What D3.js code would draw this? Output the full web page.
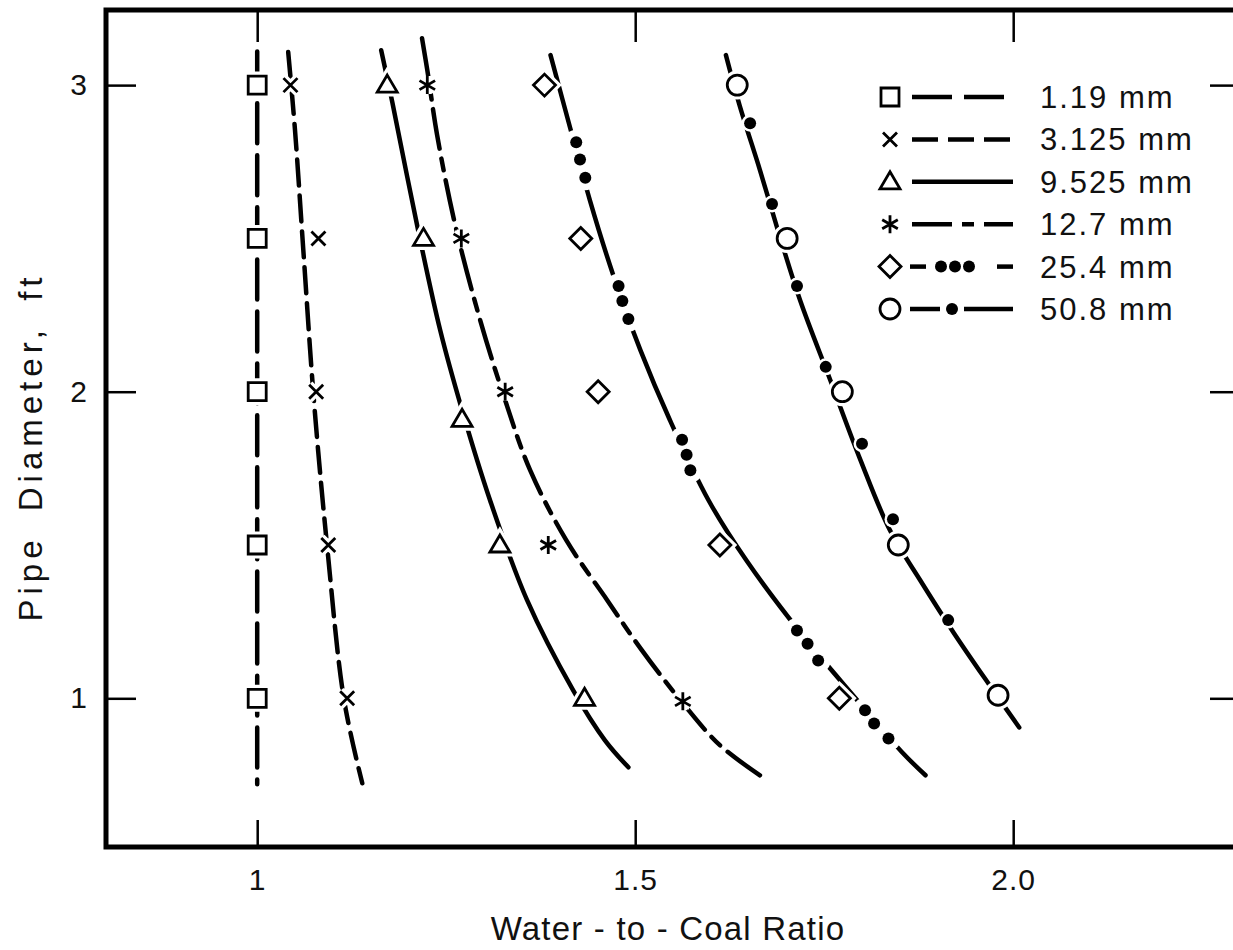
<!DOCTYPE html>
<html>
<head>
<meta charset="utf-8">
<script src="https://cdn.jsdelivr.net/npm/d3@7"></script>
<style>
  body { margin: 0; background: #fff; }
  svg { display: block; }
  text { font-family: "Liberation Sans", Arial, sans-serif; fill: #111; }
</style>
</head>
<body>
<svg width="1233" height="950"></svg>
<script>
const sizes = ["1.19 mm", "3.125 mm", "9.525 mm", "12.7 mm", "25.4 mm", "50.8 mm"];
const xTicks = [1, 1.5, 2];
const xTickLabels = ["1", "1.5", "2.0"];
const yTicks = [1, 2, 3];
const yTickLabels = ["1", "2", "3"];

// measured points [water-to-coal ratio, pipe diameter ft]
const pts119 = [[1.0, 3], [1.0, 2.5], [1.0, 2], [1.0, 1.5], [1.0, 1]];
const pts3125 = [[1.044, 3], [1.081, 2.5], [1.078, 2], [1.094, 1.5], [1.119, 1]];
const pts9525 = [[1.172, 3], [1.220, 2.5], [1.271, 1.91], [1.321, 1.5], [1.433, 1]];
const pts127 = [[1.225, 3], [1.270, 2.5], [1.328, 2], [1.385, 1.5], [1.563, 0.99]];
const pts254 = [[1.380, 3], [1.428, 2.5], [1.451, 2], [1.612, 1.5], [1.770, 1]];
const pts508 = [[1.635, 3], [1.701, 2.5], [1.774, 2], [1.848, 1.5], [1.980, 1.01]];

// fitted curves
const fit119 = [[1.0, 3.11], [1.0, 2.0], [1.0, 0.72]];
const fit3125 = [[1.041, 3.108], [1.050, 2.853], [1.061, 2.462], [1.075, 1.972], [1.093, 1.483], [1.115, 0.993], [1.139, 0.723]];
const fit9525 = [[1.164, 3.114], [1.179, 2.941], [1.212, 2.537], [1.242, 2.201], [1.271, 1.940], [1.308, 1.646], [1.357, 1.320], [1.418, 1.026], [1.460, 0.863], [1.491, 0.775]];
const fit127 = [[1.218, 3.153], [1.225, 3.049], [1.238, 2.837], [1.262, 2.543], [1.295, 2.233], [1.328, 1.972], [1.361, 1.744], [1.409, 1.515], [1.463, 1.320], [1.507, 1.163], [1.563, 0.984], [1.612, 0.847], [1.665, 0.749]];
const fit254 = [[1.388, 3.098], [1.414, 2.860], [1.440, 2.625], [1.471, 2.380], [1.507, 2.135], [1.546, 1.907], [1.597, 1.646], [1.647, 1.450], [1.716, 1.222], [1.794, 0.993], [1.853, 0.824], [1.884, 0.749]];
const fit508 = [[1.620, 3.098], [1.638, 2.935], [1.665, 2.723], [1.688, 2.533], [1.718, 2.299], [1.758, 2.038], [1.798, 1.777], [1.837, 1.548], [1.877, 1.385], [1.921, 1.215], [1.967, 1.049], [2.008, 0.905]];

// filled dots of the dash-dot patterns
const dots254 = [[1.422, 2.814], [1.427, 2.757], [1.434, 2.698], [1.478, 2.345], [1.483, 2.296], [1.491, 2.237], [1.562, 1.843], [1.568, 1.794], [1.573, 1.744], [1.714, 1.221], [1.728, 1.178], [1.742, 1.123], [1.804, 0.961], [1.816, 0.918], [1.835, 0.869]];
const dots508 = [[1.652, 2.876], [1.681, 2.612], [1.714, 2.345], [1.752, 2.081], [1.800, 1.830], [1.841, 1.584], [1.914, 1.255]];

const svg = d3.select("svg");
const x = d3.scaleLinear().domain([0.8, 2.3]).range([106, 1240]);
const y = d3.scaleLinear().domain([0.515, 3.245]).range([847, 10]);

// marker drawers
const sq = { draw(c, s) { const r = 9; c.rect(-r, -r, 2 * r, 2 * r); } };
const cross = { draw(c, s) { const r = 7; c.moveTo(-r, -r); c.lineTo(r, r); c.moveTo(r, -r); c.lineTo(-r, r); } };
const tri = { draw(c, s) { c.moveTo(0, -10); c.lineTo(10, 7); c.lineTo(-10, 7); c.closePath(); } };
const star = { draw(c, s) {
  const r = 9;
  [90, 30, 150].forEach(a => {
    const t = a * Math.PI / 180;
    c.moveTo(Math.cos(t) * r, -Math.sin(t) * r);
    c.lineTo(-Math.cos(t) * r, Math.sin(t) * r);
  });
} };
const dia = { draw(c, s) { const r = 11; c.moveTo(0, -r); c.lineTo(r, 0); c.lineTo(0, r); c.lineTo(-r, 0); c.closePath(); } };
const circ = { draw(c, s) { c.moveTo(10, 0); c.arc(0, 0, 10, 0, 2 * Math.PI); } };

const series = [
  { pts: pts119, fit: fit119, sym: sq, dash: "40,12" },
  { pts: pts3125, fit: fit3125, sym: cross, dash: "26,10" },
  { pts: pts9525, fit: fit9525, sym: tri, dash: null },
  { pts: pts127, fit: fit127, sym: star, dash: "40,10,12,10" },
  { pts: pts254, fit: fit254, sym: dia, dash: null, dots: dots254, halo: 7 },
  { pts: pts508, fit: fit508, sym: circ, dash: null, dots: dots508, halo: 3 }
];

const line = d3.line()
  .x(d => x(d[0]))
  .y(d => y(d[1]))
  .curve(d3.curveCatmullRom.alpha(0.5));

const plot = svg.append("g");

series.forEach(s => {
  plot.append("path")
    .attr("d", line(s.fit))
    .attr("fill", "none")
    .attr("stroke", "#000")
    .attr("stroke-width", 4.5)
    .attr("stroke-linecap", "round")
    .attr("stroke-dasharray", s.dash);
  if (s.dots) {
    plot.selectAll(null).data(s.dots).enter().append("circle")
      .attr("cx", d => x(d[0])).attr("cy", d => y(d[1]))
      .attr("r", 5.5 + s.halo).attr("fill", "#fff");
    plot.selectAll(null).data(s.dots).enter().append("circle")
      .attr("cx", d => x(d[0])).attr("cy", d => y(d[1]))
      .attr("r", 6).attr("fill", "#000");
  }
});

series.forEach(s => {
  const g = plot.append("g");
  const sym = d3.symbol().type(s.sym);
  g.selectAll(null).data(s.pts).enter().append("path")
    .attr("transform", d => `translate(${x(d[0])},${y(d[1])})`)
    .attr("d", sym)
    .attr("fill", "#fff")
    .attr("stroke", "#fff")
    .attr("stroke-width", 9);
  g.selectAll(null).data(s.pts).enter().append("path")
    .attr("transform", d => `translate(${x(d[0])},${y(d[1])})`)
    .attr("d", sym)
    .attr("fill", "#fff")
    .attr("stroke", "#000")
    .attr("stroke-width", 2.8);
});

// frame and inward ticks
svg.append("rect")
  .attr("x", 106).attr("y", 10)
  .attr("width", 1134).attr("height", 837)
  .attr("fill", "none").attr("stroke", "#000").attr("stroke-width", 5);

svg.append("g")
  .attr("transform", "translate(0,847)")
  .call(d3.axisBottom(x).tickValues(xTicks).tickSizeInner(-27).tickSizeOuter(0).tickPadding(22)
    .tickFormat((d, i) => xTickLabels[i]));
svg.append("g")
  .attr("transform", "translate(0,10)")
  .call(d3.axisTop(x).tickValues(xTicks).tickSizeInner(-32).tickSizeOuter(0).tickFormat(""));
svg.append("g")
  .attr("transform", "translate(106,0)")
  .call(d3.axisLeft(y).tickValues(yTicks).tickSizeInner(-30).tickSizeOuter(0).tickPadding(18)
    .tickFormat((d, i) => yTickLabels[i]));
svg.append("g")
  .attr("transform", "translate(1240,0)")
  .call(d3.axisRight(y).tickValues(yTicks).tickSizeInner(-30).tickSizeOuter(0).tickFormat(""));

svg.selectAll(".domain").remove();
svg.selectAll(".tick line").attr("stroke", "#000").attr("stroke-width", 2.5);
svg.selectAll(".tick text")
  .attr("font-family", "Liberation Sans, Arial, sans-serif")
  .attr("font-size", 30)
  .attr("letter-spacing", 1)
  .attr("fill", "#111");

svg.append("text")
  .attr("x", 668).attr("y", 940)
  .attr("text-anchor", "middle")
  .attr("font-size", 33)
  .attr("letter-spacing", 1.2)
  .text("Water - to - Coal Ratio");

svg.append("text")
  .attr("transform", "translate(42,447) rotate(-90)")
  .attr("text-anchor", "middle")
  .attr("font-size", 33)
  .attr("letter-spacing", 5)
  .attr("word-spacing", 10)
  .text("Pipe Diameter, ft");

// legend
const legend = svg.append("g");
const rowY = d3.scaleLinear().domain([0, 5]).range([97, 309]);
series.forEach((s, i) => {
  const g = legend.append("g").attr("transform", `translate(0,${rowY(i)})`);
  if (s.dots) {
    const segs = i === 4 ? [[910, 926], [997, 1013]] : [[910, 940], [964, 1013]];
    const dx = i === 4 ? [941, 955, 969] : [952];
    segs.forEach(sg => g.append("line").attr("x1", sg[0]).attr("x2", sg[1])
      .attr("stroke", "#000").attr("stroke-width", 4.5));
    dx.forEach(cx => g.append("circle").attr("cx", cx).attr("r", 6).attr("fill", "#000"));
  } else {
    g.append("line").attr("x1", 912).attr("x2", 1013)
      .attr("stroke", "#000").attr("stroke-width", 4.5)
      .attr("stroke-dasharray", s.dash);
  }
  g.append("path")
    .attr("transform", "translate(890,0)")
    .attr("d", d3.symbol().type(s.sym))
    .attr("fill", "#fff").attr("stroke", "#000").attr("stroke-width", 2.8);
  g.append("text")
    .attr("x", 1040).attr("y", 11)
    .attr("font-size", 31)
    .attr("letter-spacing", 2)
    .text(sizes[i]);
});
</script>
</body>
</html>
